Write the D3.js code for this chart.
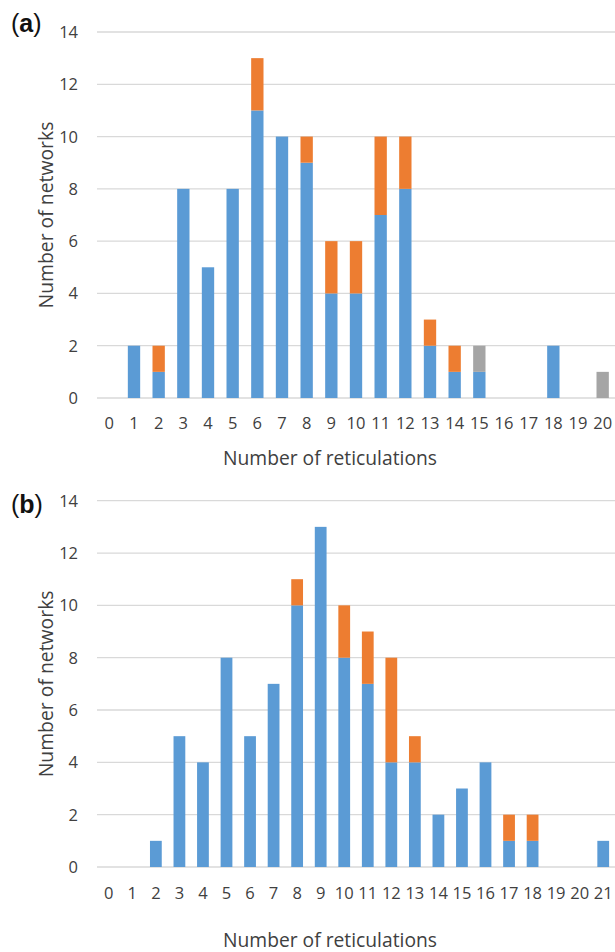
<!DOCTYPE html>
<html><head><meta charset="utf-8">
<script src="https://cdn.jsdelivr.net/npm/d3@7/dist/d3.min.js"></script>
<style>body{margin:0;background:#fff}svg{display:block}</style>
</head><body>
<script>
// ---- data ----
const categoriesA = ["0","1","2","3","4","5","6","7","8","9","10","11","12","13","14","15","16","17","18","19","20"];
const blueA   = [0,2,1,8,5,8,11,10,9,4,4,7,8,2,1,1,0,0,2,0,0];
const orangeA = [0,0,1,0,0,0,2,0,1,2,2,3,2,1,1,0,0,0,0,0,0];
const grayA   = [0,0,0,0,0,0,0,0,0,0,0,0,0,0,0,1,0,0,0,0,1];

const categoriesB = ["0","1","2","3","4","5","6","7","8","9","10","11","12","13","14","15","16","17","18","19","20","21"];
const blueB   = [0,0,1,5,4,8,5,7,10,13,8,7,4,4,2,3,4,1,1,0,0,1];
const orangeB = [0,0,0,0,0,0,0,0,1,0,2,2,4,1,0,0,0,1,1,0,0,0];
const grayB   = [0,0,0,0,0,0,0,0,0,0,0,0,0,0,0,0,0,0,0,0,0,0];

const yTicks = [0,2,4,6,8,10,12,14];
const panelLabels = ["(a)","(b)"];
const xTitle = "Number of reticulations";
const yTitle = "Number of networks";
const seriesKeys = ["blue","orange","gray"];
const seriesColors = {blue:"#5B9BD5", orange:"#ED7D31", gray:"#A5A5A5"};

// ---- drawing ----
const svg = d3.select("body").append("svg").attr("width",615).attr("height",952);
const textColor = "#404040";
const font = "'Open Sans', 'Liberation Sans', sans-serif";

function fitText(sel, target){
  const fs = parseFloat(sel.attr("font-size"));
  const len = sel.node().getComputedTextLength();
  sel.attr("font-size", fs * target / len);
}

function panel(cfg){
  const rows = cfg.cats.map((c,i)=>({cat:c, blue:cfg.blue[i], orange:cfg.orange[i], gray:cfg.gray[i]}));
  const x = d3.scaleBand().domain(cfg.cats).range([cfg.left, cfg.right]).paddingInner(0.5).paddingOuter(0.25);
  const y = d3.scaleLinear().domain([0,14]).range([cfg.bottom, cfg.top]);
  const g = svg.append("g");

  // gridlines
  g.append("g").selectAll("line").data(yTicks).join("line")
    .attr("x1",cfg.left).attr("x2",cfg.right)
    .attr("y1",d=>y(d)).attr("y2",d=>y(d))
    .attr("stroke","#D9D9D9").attr("stroke-width",1.3);

  // y tick labels
  g.append("g").selectAll("text").data(yTicks).join("text")
    .attr("x",78).attr("y",d=>y(d)+6)
    .attr("text-anchor","end").attr("font-family",font).attr("font-size",16.5)
    .attr("fill",textColor).text(d=>d);

  // bars
  const stacked = d3.stack().keys(seriesKeys)(rows);
  g.append("g").selectAll("g").data(stacked).join("g")
    .attr("fill",d=>seriesColors[d.key])
    .selectAll("rect").data(d=>d.filter(p=>p[1]>p[0])).join("rect")
    .attr("x",d=>x(d.data.cat)).attr("width",x.bandwidth())
    .attr("y",d=>y(d[1])).attr("height",d=>y(d[0])-y(d[1]));

  // x tick labels
  g.append("g").selectAll("text").data(cfg.cats).join("text")
    .attr("x",d=>x(d)+x.bandwidth()/2).attr("y",cfg.tickBaseline)
    .attr("text-anchor","middle").attr("font-family",font).attr("font-size",16.5)
    .attr("fill",textColor).text(d=>d);

  // x title
  const xt = g.append("text").attr("x",cfg.xTitleX).attr("y",cfg.xTitleBaseline)
    .attr("text-anchor","middle").attr("font-family",font).attr("font-size",18)
    .attr("fill",textColor).text(xTitle);
  fitText(xt, 214);

  // y title
  const yt = g.append("text")
    .attr("transform",`translate(53,${(cfg.top+cfg.bottom)/2}) rotate(-90)`)
    .attr("text-anchor","middle").attr("font-family",font).attr("font-size",18)
    .attr("fill",textColor).text(yTitle);
  fitText(yt, 187);

  // panel label
  const lab = g.append("text").attr("x",11).attr("y",cfg.labelBaseline)
    .attr("font-family","'Liberation Sans', Arial, sans-serif").attr("font-size",25)
    .attr("fill","#111");
  lab.append("tspan").text(cfg.label[0]);
  lab.append("tspan").attr("font-weight","bold").text(cfg.label.slice(1,-1));
  lab.append("tspan").text(cfg.label.slice(-1));
}

panel({cats:categoriesA, blue:blueA, orange:orangeA, gray:grayA,
  left:97, right:615, top:32, bottom:398,
  tickBaseline:429, xTitleX:330, xTitleBaseline:465, labelBaseline:31.5, label:panelLabels[0]});
panel({cats:categoriesB, blue:blueB, orange:orangeB, gray:grayB,
  left:97, right:615, top:500.7, bottom:867,
  tickBaseline:899, xTitleX:330, xTitleBaseline:947, labelBaseline:513, label:panelLabels[1]});
</script>
</body></html>
